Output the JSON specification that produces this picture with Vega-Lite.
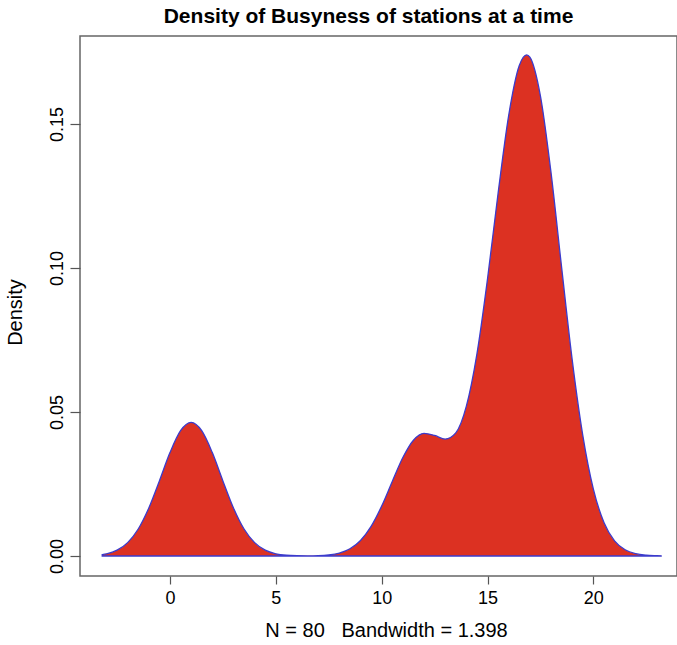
{
  "$schema": "https://vega.github.io/schema/vega-lite/v6.json",
  "width": 597,
  "height": 540,
  "autosize": {"type": "none"},
  "padding": {"left": 80, "top": 36, "right": 0, "bottom": 69},
  "background": "white",
  "title": {
    "text": "Density of Busyness of stations at a time",
    "font": "Liberation Sans",
    "fontSize": 21,
    "fontWeight": "bold",
    "color": "black",
    "anchor": "middle",
    "frame": "group",
    "dx": -10,
    "offset": 9
  },
  "config": {
    "view": {"stroke": "#666666", "strokeWidth": 1.5},
    "axis": {"grid": false, "domain": false, "tickColor": "#555555", "tickWidth": 1.2, "labelColor": "black", "titleColor": "black", "labelFont": "Liberation Sans", "titleFont": "Liberation Sans", "titleFontWeight": "normal"}
  },
  "data": {
    "values": [
      {"x": -3.2, "density": 0.00051},
      {"x": -3.0, "density": 0.00077},
      {"x": -2.5, "density": 0.00202},
      {"x": -2.0, "density": 0.00464},
      {"x": -1.5, "density": 0.00937},
      {"x": -1.0, "density": 0.01667},
      {"x": -0.5, "density": 0.02608},
      {"x": 0.0, "density": 0.0359},
      {"x": 0.5, "density": 0.0435},
      {"x": 1.0, "density": 0.04637},
      {"x": 1.5, "density": 0.0435},
      {"x": 2.0, "density": 0.0359},
      {"x": 2.5, "density": 0.02608},
      {"x": 3.0, "density": 0.01667},
      {"x": 3.5, "density": 0.00937},
      {"x": 4.0, "density": 0.00464},
      {"x": 4.5, "density": 0.00202},
      {"x": 5.0, "density": 0.00077},
      {"x": 5.5, "density": 0.00026},
      {"x": 6.0, "density": 0.0001},
      {"x": 6.5, "density": 0.00006},
      {"x": 7.0, "density": 0.00012},
      {"x": 7.5, "density": 0.00037},
      {"x": 8.0, "density": 0.00103},
      {"x": 8.5, "density": 0.00251},
      {"x": 9.0, "density": 0.00541},
      {"x": 9.5, "density": 0.0103},
      {"x": 10.0, "density": 0.01736},
      {"x": 10.5, "density": 0.02588},
      {"x": 11.0, "density": 0.03418},
      {"x": 11.5, "density": 0.04021},
      {"x": 12.0, "density": 0.04259},
      {"x": 12.5, "density": 0.04186},
      {"x": 13.0, "density": 0.04062},
      {"x": 13.5, "density": 0.04277},
      {"x": 14.0, "density": 0.05203},
      {"x": 14.5, "density": 0.07021},
      {"x": 15.0, "density": 0.09627},
      {"x": 15.5, "density": 0.126},
      {"x": 16.0, "density": 0.153},
      {"x": 16.5, "density": 0.1703},
      {"x": 16.85, "density": 0.174},
      {"x": 17.0, "density": 0.1732},
      {"x": 17.5, "density": 0.1597},
      {"x": 18.0, "density": 0.1331},
      {"x": 18.5, "density": 0.1002},
      {"x": 19.0, "density": 0.0681},
      {"x": 19.5, "density": 0.0419},
      {"x": 20.0, "density": 0.0232},
      {"x": 20.5, "density": 0.01166},
      {"x": 21.0, "density": 0.00528},
      {"x": 21.5, "density": 0.00217},
      {"x": 22.0, "density": 0.0008},
      {"x": 22.5, "density": 0.00027},
      {"x": 23.0, "density": 0.0001},
      {"x": 23.2, "density": 0.00005}
    ]
  },
  "mark": {"type": "area", "interpolate": "monotone", "fill": "#dc3122", "fillOpacity": 1, "stroke": "#3b3bcc", "strokeWidth": 1.3},
  "encoding": {
    "x": {
      "field": "x",
      "type": "quantitative",
      "scale": {"domain": [-4.25, 23.95], "nice": false, "zero": false},
      "axis": {
        "values": [0, 5, 10, 15, 20],
        "title": "N = 80\u00a0\u00a0 Bandwidth = 1.398",
        "tickSize": 8,
        "labelFontSize": 18,
        "labelPadding": 5,
        "titleFontSize": 20,
        "titleX": 306,
        "titleY": 60,
        "titleBaseline": "alphabetic",
        "titleAlign": "center"
      }
    },
    "y": {
      "field": "density",
      "type": "quantitative",
      "scale": {"domain": [-0.00694, 0.18056], "nice": false, "zero": false},
      "axis": {
        "values": [0, 0.05, 0.1, 0.15],
        "format": ".2f",
        "tickSize": 10,
        "labelFontSize": 18,
        "labelAngle": -90,
        "labelAlign": "center",
        "labelBaseline": "bottom",
        "labelPadding": 4,
        "title": "Density",
        "titleFontSize": 20,
        "titleX": -65,
        "titleY": 276,
        "titleAngle": -90,
        "titleAlign": "center",
        "titleBaseline": "middle"
      }
    },
    "y2": {"datum": 0}
  }
}
